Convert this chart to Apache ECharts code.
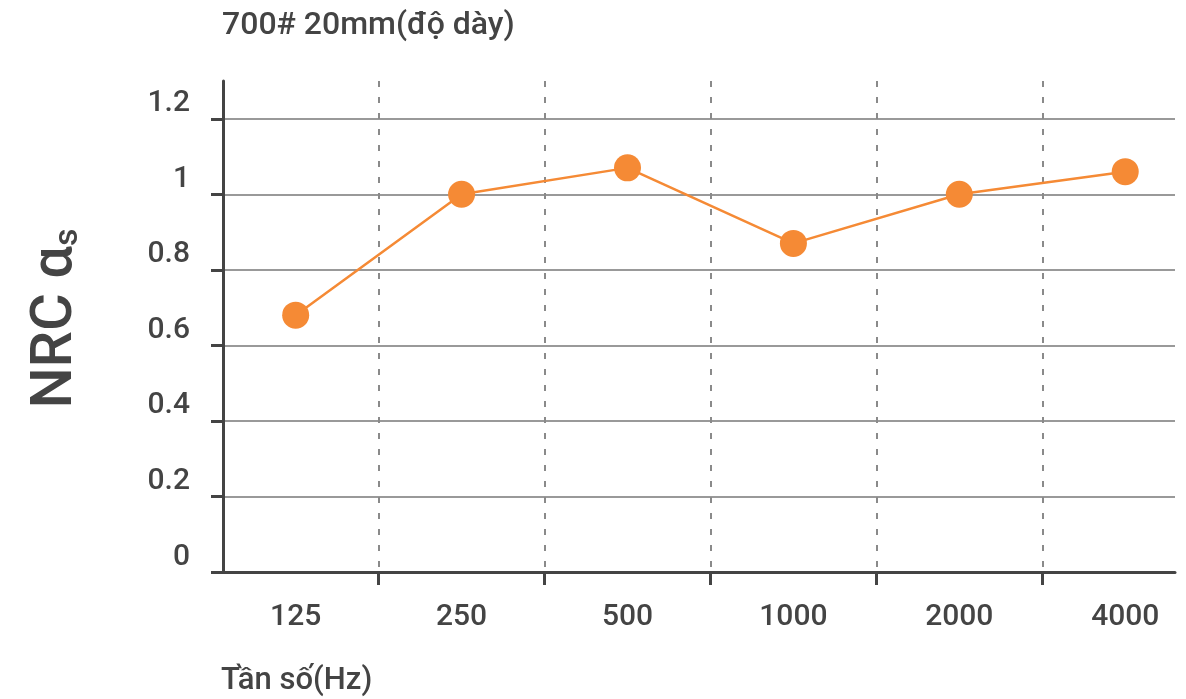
<!DOCTYPE html>
<html><head><meta charset="utf-8">
<script src="https://cdn.jsdelivr.net/npm/echarts@6/dist/echarts.min.js"></script>
<style>html,body{margin:0;padding:0;background:#fff}#c{width:1186px;height:699px}</style>
</head><body><div id="c"></div>
<script>
const categories = ['125', '250', '500', '1000', '2000', '4000'];
const nrcValues = [0.68, 1.0, 1.07, 0.87, 1.0, 1.06];
const yTickValues = [0, 0.2, 0.4, 0.6, 0.8, 1, 1.2];
const titleText = '700# 20mm(độ dày)';
const xAxisName = 'Tần số(Hz)';
const yAxisName = 'NRC α';
const yAxisNameSub = 's';

const seriesData = nrcValues.map((v, i) => [i, v]);
const labelPositions = categories.map((_, i) => i);
const boundaries = categories.slice(1).map((_, i) => i + 0.5);

const FONT = 'Roboto';
const TXT = '#444';
const chart = echarts.init(document.getElementById('c'));
chart.setOption({
  animation: false,
  backgroundColor: '#fff',
  title: [
    { text: titleText, left: 217, top: 5,
      textStyle: { fontFamily: FONT, fontSize: 32, fontWeight: 500, color: TXT } },
    { text: xAxisName, left: 216, top: 661,
      textStyle: { fontFamily: FONT, fontSize: 31, fontWeight: 500, color: TXT } }
  ],
  grid: { left: 223, right: 11, top: 81, bottom: 127, containLabel: false },
  xAxis: {
    type: 'value', min: -0.438, max: 5.30,
    axisLine: { show: true, onZero: false, lineStyle: { color: '#444', width: 3 } },
    axisTick: { show: true, customValues: boundaries, length: 13, lineStyle: { color: '#444', width: 3 } },
    axisLabel: { customValues: labelPositions, formatter: v => categories[Math.round(v)],
      fontFamily: FONT, fontSize: 30, fontWeight: 500, color: TXT, margin: 30 },
    splitLine: { show: true, lineStyle: { color: '#8a8a8a', width: 2, type: [6, 10] } }
  },
  yAxis: {
    type: 'value', min: 0, max: 1.3,
    name: '{a|' + yAxisName + '}{b|' + yAxisNameSub + '}',
    nameLocation: 'middle', nameGap: 138, nameRotate: 90,
    nameTextStyle: { padding: [0, 0, 0, 16], rich: {
      a: { fontFamily: FONT, fontSize: 58, fontWeight: 500, color: TXT },
      b: { fontFamily: FONT, fontSize: 34, fontWeight: 500, color: TXT, verticalAlign: 'bottom' }
    } },
    axisLine: { show: true, onZero: false, lineStyle: { color: '#444', width: 3 } },
    axisTick: { show: true, customValues: yTickValues, length: 12, lineStyle: { color: '#444', width: 3 } },
    axisLabel: { customValues: yTickValues, fontFamily: FONT, fontSize: 30, fontWeight: 500,
      color: TXT, margin: 33, verticalAlign: 'bottom' },
    splitLine: { show: true, lineStyle: { color: '#777', width: 1.5 } }
  },
  series: [{
    type: 'line', data: seriesData,
    symbol: 'circle', symbolSize: 27,
    itemStyle: { color: '#F58A35' },
    lineStyle: { color: '#F58A35', width: 2.5 },
    z: 5
  }]
});
</script></body></html>
